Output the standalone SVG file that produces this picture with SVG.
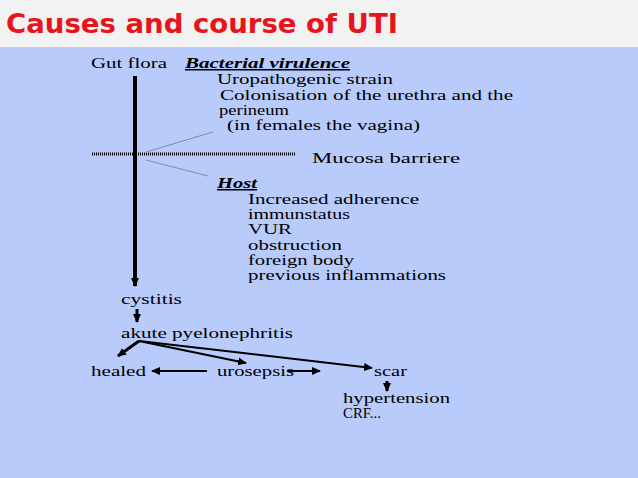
<svg xmlns="http://www.w3.org/2000/svg" width="638" height="478" viewBox="0 0 638 478">
<style>
.t{font-family:"Liberation Serif",serif;font-size:15px;fill:#000}
.b{font-weight:bold;font-style:italic;text-decoration:underline}
.c line{stroke:#000;fill:none}
</style>
<defs><marker id="a" markerWidth="10" markerHeight="10" refX="8" refY="5" orient="auto" markerUnits="userSpaceOnUse"><path d="M0,1L9,5L0,9z" fill="#000"/></marker></defs>
<rect width="638" height="478" fill="#b8cbfb"/>
<rect width="638" height="47" fill="#f2f2f2"/>
<text x="6" y="33" font-family="'DejaVu Sans',sans-serif" font-size="26" font-weight="bold" fill="#e8141c" textLength="392" lengthAdjust="spacingAndGlyphs">Causes and course of UTI</text>
<g id="texts">
<text class="t" x="91" y="68" textLength="76" lengthAdjust="spacingAndGlyphs">Gut flora</text>
<text class="t b" x="185" y="68" textLength="165" lengthAdjust="spacingAndGlyphs">Bacterial virulence</text>
<text class="t" x="217" y="84" textLength="176" lengthAdjust="spacingAndGlyphs">Uropathogenic strain</text>
<text class="t" x="220" y="100" textLength="293" lengthAdjust="spacingAndGlyphs">Colonisation of the urethra and the</text>
<text class="t" x="219" y="115" textLength="70" lengthAdjust="spacingAndGlyphs">perineum</text>
<text class="t" x="227" y="130" textLength="193" lengthAdjust="spacingAndGlyphs">(in females the vagina)</text>
<text class="t" x="312" y="163" textLength="148" lengthAdjust="spacingAndGlyphs">Mucosa barriere</text>
<text class="t b" x="217" y="188" textLength="40" lengthAdjust="spacingAndGlyphs">Host</text>
<text class="t" x="248" y="204" textLength="171" lengthAdjust="spacingAndGlyphs">Increased adherence</text>
<text class="t" x="248" y="219" textLength="102" lengthAdjust="spacingAndGlyphs">immunstatus</text>
<text class="t" x="248" y="234" textLength="44" lengthAdjust="spacingAndGlyphs">VUR</text>
<text class="t" x="248" y="250" textLength="94" lengthAdjust="spacingAndGlyphs">obstruction</text>
<text class="t" x="248" y="265" textLength="106" lengthAdjust="spacingAndGlyphs">foreign body</text>
<text class="t" x="248" y="280" textLength="198" lengthAdjust="spacingAndGlyphs">previous inflammations</text>
</g>
<g id="cystitis"><text class="t" x="121" y="304" textLength="61" lengthAdjust="spacingAndGlyphs">cystitis</text></g>
<g id="pyelo"><text class="t" x="121" y="338" textLength="172" lengthAdjust="spacingAndGlyphs">akute pyelonephritis</text></g>
<g id="healed"><text class="t" x="91" y="376" textLength="55" lengthAdjust="spacingAndGlyphs">healed</text></g>
<g id="urosepsis"><text class="t" x="217" y="376" textLength="77" lengthAdjust="spacingAndGlyphs">urosepsis</text></g>
<g id="scar"><text class="t" x="374" y="376" textLength="33" lengthAdjust="spacingAndGlyphs">scar</text></g>
<g id="hyper"><text class="t" x="343" y="403" textLength="107" lengthAdjust="spacingAndGlyphs">hypertension</text><text class="t" x="343" y="418" font-size="10" textLength="38" lengthAdjust="spacingAndGlyphs">CRF...</text></g>
<g class="c" id="connectors">
<line x1="135" y1="76" x2="135" y2="286" stroke-width="4" marker-end="url(#a)"/>
<line x1="92" y1="154" x2="295" y2="154" stroke-dasharray="1,1" stroke-width="3"/>
<line x1="146" y1="152" x2="213" y2="132" style="stroke:#7a8cb8" stroke-width="1"/>
<line x1="146" y1="160" x2="208" y2="176" style="stroke:#7a8cb8" stroke-width="1"/>
<line x1="137" y1="309" x2="137" y2="322" stroke-width="3" marker-end="url(#a)"/>
<line x1="139" y1="341" x2="118" y2="356" stroke-width="3" marker-end="url(#a)"/>
<line x1="139" y1="341" x2="246" y2="363" stroke-width="2" marker-end="url(#a)"/>
<line x1="139" y1="341" x2="372" y2="368" stroke-width="2" marker-end="url(#a)"/>
<line x1="207" y1="371" x2="152" y2="371" stroke-width="2" marker-end="url(#a)"/>
<line x1="288" y1="371" x2="320" y2="371" stroke-width="2" marker-end="url(#a)"/>
<line x1="387" y1="381" x2="387" y2="391" stroke-width="3" marker-end="url(#a)"/>
</g>
</svg>
